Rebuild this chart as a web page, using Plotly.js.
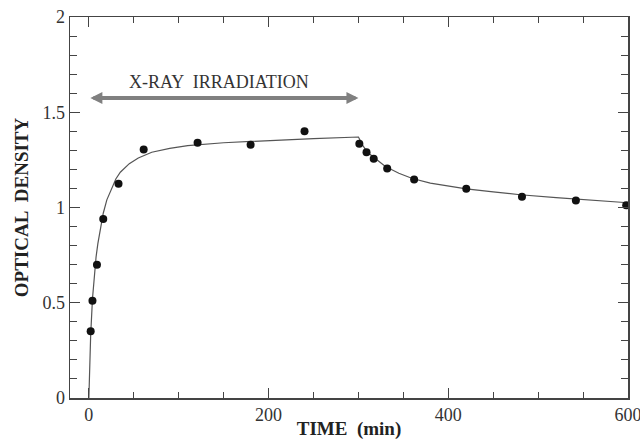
<!DOCTYPE html>
<html>
<head>
<meta charset="utf-8">
<script src="https://cdn.plot.ly/plotly-3.0.1.min.js"></script>
<style>html,body{margin:0;padding:0;background:#fff;}#chart{width:640px;height:440px;}</style>
</head>
<body>
<div id="chart"></div>
<script>
// Measured points
const timeMin = [2, 4, 9, 16, 33, 61, 121, 180, 240, 301, 309, 317, 332, 362, 420, 482, 542, 598];
const opticalDensity = [0.35, 0.51, 0.70, 0.94, 1.125, 1.305, 1.34, 1.33, 1.40, 1.335, 1.29, 1.256, 1.205, 1.147, 1.098, 1.056, 1.037, 1.012];

// Fitted curve
const fitTime = [0, 1, 2, 4, 6, 8, 10, 13, 16, 20, 25, 30, 35, 45, 55, 70, 90, 110, 150, 200, 250, 300,
                 305, 310, 320, 330, 345, 360, 380, 400, 420, 450, 480, 520, 560, 600];
const fitOD = [0, 0.17, 0.33, 0.52, 0.65, 0.74, 0.81, 0.90, 0.97, 1.04, 1.10, 1.15, 1.185, 1.23, 1.26, 1.29, 1.31, 1.325, 1.34, 1.352, 1.362, 1.37,
               1.325, 1.29, 1.25, 1.215, 1.18, 1.152, 1.128, 1.112, 1.098, 1.082, 1.067, 1.052, 1.039, 1.025];

// Irradiation period
const irradiation = [0, 300];
const irradiationLabel = "X-RAY  IRRADIATION";
const xTickVals = [0, 200, 400, 600];
const yTickVals = [0, 0.5, 1, 1.5, 2];

const serif = "Liberation Serif, Times New Roman, serif";

const traces = [
  {
    x: fitTime, y: fitOD, mode: 'lines', type: 'scatter',
    line: {color: '#555', width: 1.2}, hoverinfo: 'skip', showlegend: false, cliponaxis: false
  },
  {
    x: timeMin, y: opticalDensity, mode: 'markers', type: 'scatter',
    marker: {color: '#111', size: 8, symbol: 'circle'}, showlegend: false
  }
];

const axisCommon = {
  showgrid: false, zeroline: false, showline: true, linecolor: '#444', linewidth: 1.5,
  mirror: 'allticks', ticks: 'inside', ticklen: 10, tickwidth: 1.2, tickcolor: '#444',
  ticklabeloverflow: 'allow',
  tickfont: {family: serif, size: 18, color: '#333'}
};

const layout = {
  width: 640, height: 440,
  margin: {l: 70, r: 12, t: 17, b: 42},
  paper_bgcolor: '#fff', plot_bgcolor: '#fff',
  xaxis: Object.assign({}, axisCommon, {
    range: [-21, 600], tickvals: xTickVals, ticktext: xTickVals.map(String),
    minor: {dtick: 50, ticks: 'inside', ticklen: 6, tickcolor: '#444', tickwidth: 1},
    title: {text: '<b>TIME  (min)</b>', font: {family: serif, size: 19, color: '#222'}, standoff: 4}
  }),
  yaxis: Object.assign({}, axisCommon, {
    range: [0, 2], tickvals: yTickVals, ticktext: ['0', '0.5', '1', '1.5', '2'],
    minor: {dtick: 0.1, ticks: 'inside', ticklen: 7, tickcolor: '#444', tickwidth: 1},
    title: {text: '<b>OPTICAL  DENSITY</b>', font: {family: serif, size: 19, color: '#222'}, standoff: 9}
  }),
  annotations: [
    {
      x: irradiation[1], y: 1.575, ax: irradiation[0], ay: 1.575,
      xref: 'x', yref: 'y', axref: 'x', ayref: 'y',
      text: '', showarrow: true, arrowhead: 2, startarrowhead: 2, arrowside: 'end+start',
      arrowsize: 0.6, startarrowsize: 0.6, arrowwidth: 4, arrowcolor: '#808080'
    },
    {
      x: (irradiation[0] + irradiation[1]) / 2 - 5, y: 1.66, xref: 'x', yref: 'y',
      text: irradiationLabel, showarrow: false,
      font: {family: serif, size: 18, color: '#333'}
    }
  ]
};

Plotly.newPlot('chart', traces, layout, {staticPlot: true, displayModeBar: false});
</script>
</body>
</html>
